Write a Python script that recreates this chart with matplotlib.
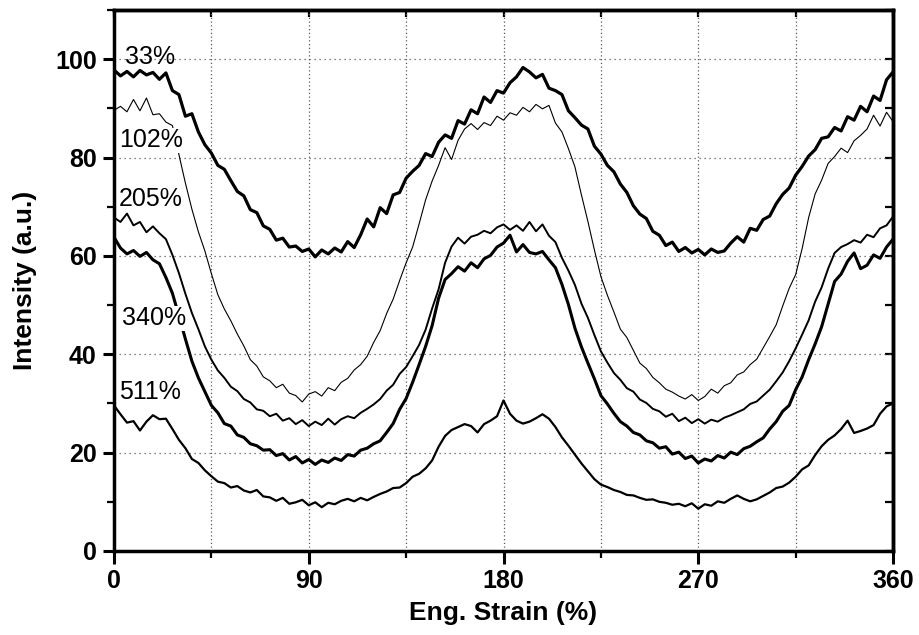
import numpy as np
import matplotlib
matplotlib.use("Agg")
import matplotlib.pyplot as plt
from matplotlib.ticker import MultipleLocator

plt.rcParams["font.family"] = ["Liberation Sans", "DejaVu Sans"]

# =====================================================
# DATA (3 deg steps, 0..360)
# =====================================================
labels = ["33%", "102%", "205%", "340%", "511%"]

s33 = [97.8, 96.6, 97.5, 96.4, 97.7, 96.8, 97.3, 95.9, 97.2, 93.6,
       92.8, 88.4, 88.9, 85.2, 82.6, 80.9, 78.4, 77.6, 75.3, 73.1,
       72.2, 69.4, 68.8, 66.1, 65.4, 63.2, 63.6, 61.8, 62.0, 60.9,
       61.4, 59.8, 61.2, 60.4, 61.6, 60.8, 62.9, 61.7, 64.3, 67.5,
       65.9, 69.8, 68.6, 72.4, 72.9, 75.8, 77.2, 78.4, 80.8, 80.2,
       83.1, 84.6, 83.9, 87.5, 86.8, 89.7, 88.9, 92.3, 91.2, 93.6,
       93.1, 95.2, 96.4, 98.3, 97.4, 96.2, 96.9, 94.1, 93.6, 92.8,
       89.5, 88.1, 86.6, 85.8, 82.3, 80.7, 78.4, 77.1, 74.6, 72.9,
       70.2, 68.5, 67.6, 65.0, 64.2, 62.1, 62.8, 60.9, 61.7, 60.6,
       61.3, 60.2, 61.4, 60.7, 61.0, 62.6, 63.9, 62.8, 65.6, 65.2,
       67.4, 68.1, 70.6, 72.5, 73.8, 76.4, 78.2, 80.3, 81.6, 83.9,
       84.2, 86.1, 85.4, 88.3, 87.6, 90.4, 89.3, 92.5, 91.6, 95.8,
       97.4]

s102 = [89.6, 90.4, 89.3, 91.8, 89.5, 92.1, 88.7, 88.9, 87.2, 86.5,
        80.6, 74.8, 69.5, 64.9, 61.0, 56.4, 52.1, 49.2, 46.8, 44.1,
        41.7, 38.9, 37.6, 35.4, 34.6, 33.2, 33.9, 32.1, 31.6, 30.3,
        31.9, 32.4, 31.5, 33.2, 32.6, 34.3, 35.1, 36.8, 37.9, 39.6,
        42.4, 44.8, 48.3, 51.2, 55.0, 58.6, 61.8, 66.5, 71.4, 75.2,
        78.4, 82.0, 79.6, 83.5, 85.8, 86.9, 85.7, 87.1, 86.5, 88.4,
        87.6, 89.1, 88.6, 90.2, 89.3, 90.8, 89.9, 90.6, 87.0, 85.2,
        81.8, 78.1, 72.4, 67.0, 61.2, 55.8, 52.0, 48.6, 45.1, 43.4,
        40.8, 38.2, 37.1, 35.3, 34.2, 32.9, 32.3, 31.5, 30.9, 31.8,
        30.6, 31.4, 32.9, 32.1, 33.6, 34.2, 35.8, 36.4, 37.9, 39.0,
        41.3, 43.6, 46.0, 49.8, 53.4, 56.2, 61.5, 67.8, 72.6, 75.4,
        78.8, 80.2, 81.9, 81.0, 83.4, 84.5, 85.8, 88.6, 86.4, 89.2,
        87.3]

s205 = [67.8, 66.9, 68.6, 66.2, 66.9, 64.8, 66.0, 64.6, 63.4, 60.2,
        56.5, 52.3, 48.4, 45.1, 41.6, 38.9, 36.7, 35.2, 33.4, 32.5,
        30.9, 30.2, 28.8, 28.5, 27.4, 27.9, 26.5, 27.0, 25.8, 26.6,
        25.4, 26.3, 25.6, 26.9, 25.7, 26.8, 27.4, 27.0, 28.1, 28.9,
        29.8, 30.9, 32.6, 33.8, 36.0, 37.4, 39.6, 41.9, 45.0, 49.3,
        53.2, 58.6, 61.9, 63.7, 62.5, 63.9, 64.3, 65.1, 64.6, 65.8,
        66.4, 65.3, 66.2, 65.1, 66.9, 65.0, 66.4, 64.1, 62.8, 59.6,
        57.0, 54.1, 50.3, 47.4, 43.9, 40.6, 38.3, 36.2, 34.8, 33.1,
        32.4, 30.8, 30.1, 28.9, 28.4, 27.3, 27.9, 26.4, 27.1, 26.0,
        26.8, 25.9, 26.7, 26.3, 27.1, 27.6, 28.2, 28.8, 29.9, 30.4,
        31.6, 32.8, 34.5, 36.3, 38.6, 41.2, 44.0, 46.9, 50.7, 53.6,
        57.4, 60.6, 61.8, 62.4, 63.2, 62.7, 64.3, 63.8, 65.6, 66.2,
        68.0]

s340 = [63.8, 61.6, 60.4, 61.1, 59.9, 60.7, 59.2, 58.4, 55.6, 52.4,
        47.8, 43.1, 38.6, 35.2, 32.4, 29.6, 28.1, 25.9, 25.4, 23.6,
        23.1, 21.8, 21.4, 20.5, 20.6, 19.4, 19.8, 18.5, 19.2, 17.9,
        18.6, 17.6, 18.5, 18.0, 18.9, 18.4, 19.6, 19.3, 20.5, 20.9,
        21.8, 22.4, 24.1, 25.9, 28.8, 31.0, 34.3, 37.9, 41.6, 45.8,
        51.4, 55.2, 56.4, 57.8, 56.9, 58.6, 57.6, 59.4, 60.1, 61.8,
        62.6, 64.2, 60.8, 62.3, 60.7, 60.4, 60.9, 59.2, 57.6, 54.2,
        50.1, 45.3, 41.5, 38.2, 35.0, 31.6, 29.9, 28.0, 26.3, 25.4,
        24.1, 23.6, 22.4, 22.0, 20.9, 21.2, 19.7, 20.1, 18.8, 19.3,
        17.9, 18.7, 18.3, 19.4, 18.9, 20.1, 19.6, 20.8, 21.3, 22.2,
        23.0, 24.8, 26.3, 28.4, 29.6, 32.8, 35.4, 38.9, 42.1, 45.6,
        50.2, 54.8, 56.3, 58.9, 60.6, 57.4, 58.1, 60.2, 59.5, 61.8,
        63.4]

s511 = [29.6, 27.8, 26.1, 26.4, 24.5, 26.3, 27.6, 26.8, 26.9, 24.8,
        22.6, 20.9, 18.7, 17.9, 16.4, 15.2, 14.1, 13.8, 12.9, 13.2,
        12.3, 11.9, 12.4, 11.1, 10.9, 10.2, 10.8, 9.6, 9.9, 10.4,
        9.3, 9.9, 8.9, 9.8, 9.5, 10.2, 10.6, 10.1, 10.8, 10.3,
        11.0, 11.6, 12.1, 12.8, 12.9, 13.8, 15.1, 15.7, 16.8, 18.4,
        21.2, 23.4, 24.6, 25.2, 25.8, 25.4, 24.1, 25.8, 26.5, 27.4,
        30.6, 27.9, 26.5, 25.9, 26.3, 27.0, 27.8, 26.9, 25.2, 23.1,
        21.4, 19.6, 17.8, 16.2, 14.6, 13.5, 13.0, 12.4, 12.0, 11.4,
        11.3, 10.8, 10.4, 10.5, 10.0, 9.8, 9.4, 9.6, 9.1, 9.7,
        8.6, 9.5, 9.2, 10.1, 9.8, 10.6, 11.3, 10.6, 10.1, 10.5,
        11.2, 11.9, 12.8, 13.1, 13.9, 15.1, 16.6, 17.4, 19.5, 21.3,
        22.6, 23.5, 24.8, 26.5, 24.0, 24.4, 24.9, 25.6, 27.9, 29.4,
        30.0]

series = [s33, s102, s205, s340, s511]
widths = [2.3, 0.8, 1.4, 2.2, 1.6]
label_x = [5.0, 2.3, 2.3, 3.5, 2.3]
label_y = [100.4, 83.5, 71.6, 47.3, 32.3]
label_mask = [False, True, False, True, False]

# =====================================================
# PLOT
# =====================================================
fig = plt.figure(figsize=(9.2, 6.35), dpi=100)
ax = fig.add_axes([0.1239, 0.1323, 0.8468, 0.852])

for vals, lw in zip(series, widths):
    x = np.linspace(0, 360, len(vals))
    ax.plot(x, vals, color="black", linewidth=lw, zorder=3)

for lab, xx, yy, mask in zip(labels, label_x, label_y, label_mask):
    bbox = dict(facecolor="white", edgecolor="none", pad=0.3) if mask else None
    ax.text(xx, yy, lab, fontsize=18, ha="left", va="center", zorder=5,
            bbox=bbox)

ax.set_xlim(0, 360)
ax.set_ylim(0, 110)

ax.xaxis.set_major_locator(MultipleLocator(90))
ax.xaxis.set_minor_locator(MultipleLocator(45))
ax.yaxis.set_major_locator(MultipleLocator(20))
ax.yaxis.set_minor_locator(MultipleLocator(10))

# dotted grid
for gx in range(45, 360, 45):
    ax.axvline(gx, color="0.35", linestyle=(0, (1, 2)), linewidth=0.9, zorder=1)
for gy in range(20, 101, 20):
    ax.axhline(gy, color="0.35", linestyle=(0, (1, 3)), linewidth=0.9, zorder=1)

ax.tick_params(axis="x", which="major", direction="out", length=9,
               width=2.2, labelsize=18, pad=4)
ax.tick_params(axis="y", which="major", direction="out", length=8,
               width=2.2, labelsize=18, pad=4.5)
ax.tick_params(axis="both", which="minor", direction="out", length=5, width=1.6)
for t in ax.get_xticklabels() + ax.get_yticklabels():
    t.set_fontweight("bold")

# inward ticks on top and right
ax_top = ax.secondary_xaxis("top")
ax_top.xaxis.set_major_locator(MultipleLocator(45))
ax_top.tick_params(direction="in", length=5, width=1.6, labeltop=False)
ax_right = ax.secondary_yaxis("right")
ax_right.yaxis.set_major_locator(MultipleLocator(10))
ax_right.tick_params(direction="in", length=6, width=1.6, labelright=False)
ax_top.spines["top"].set_linewidth(2.5)
ax_right.spines["right"].set_linewidth(2.5)

for sp in ax.spines.values():
    sp.set_linewidth(2.5)

ax.set_xlabel("Eng. Strain (%)", fontsize=19, fontweight="bold", labelpad=6)
ax.set_ylabel("Intensity (a.u.)", fontsize=19, fontweight="bold", labelpad=13)

fig.savefig("out.png", dpi=100)
